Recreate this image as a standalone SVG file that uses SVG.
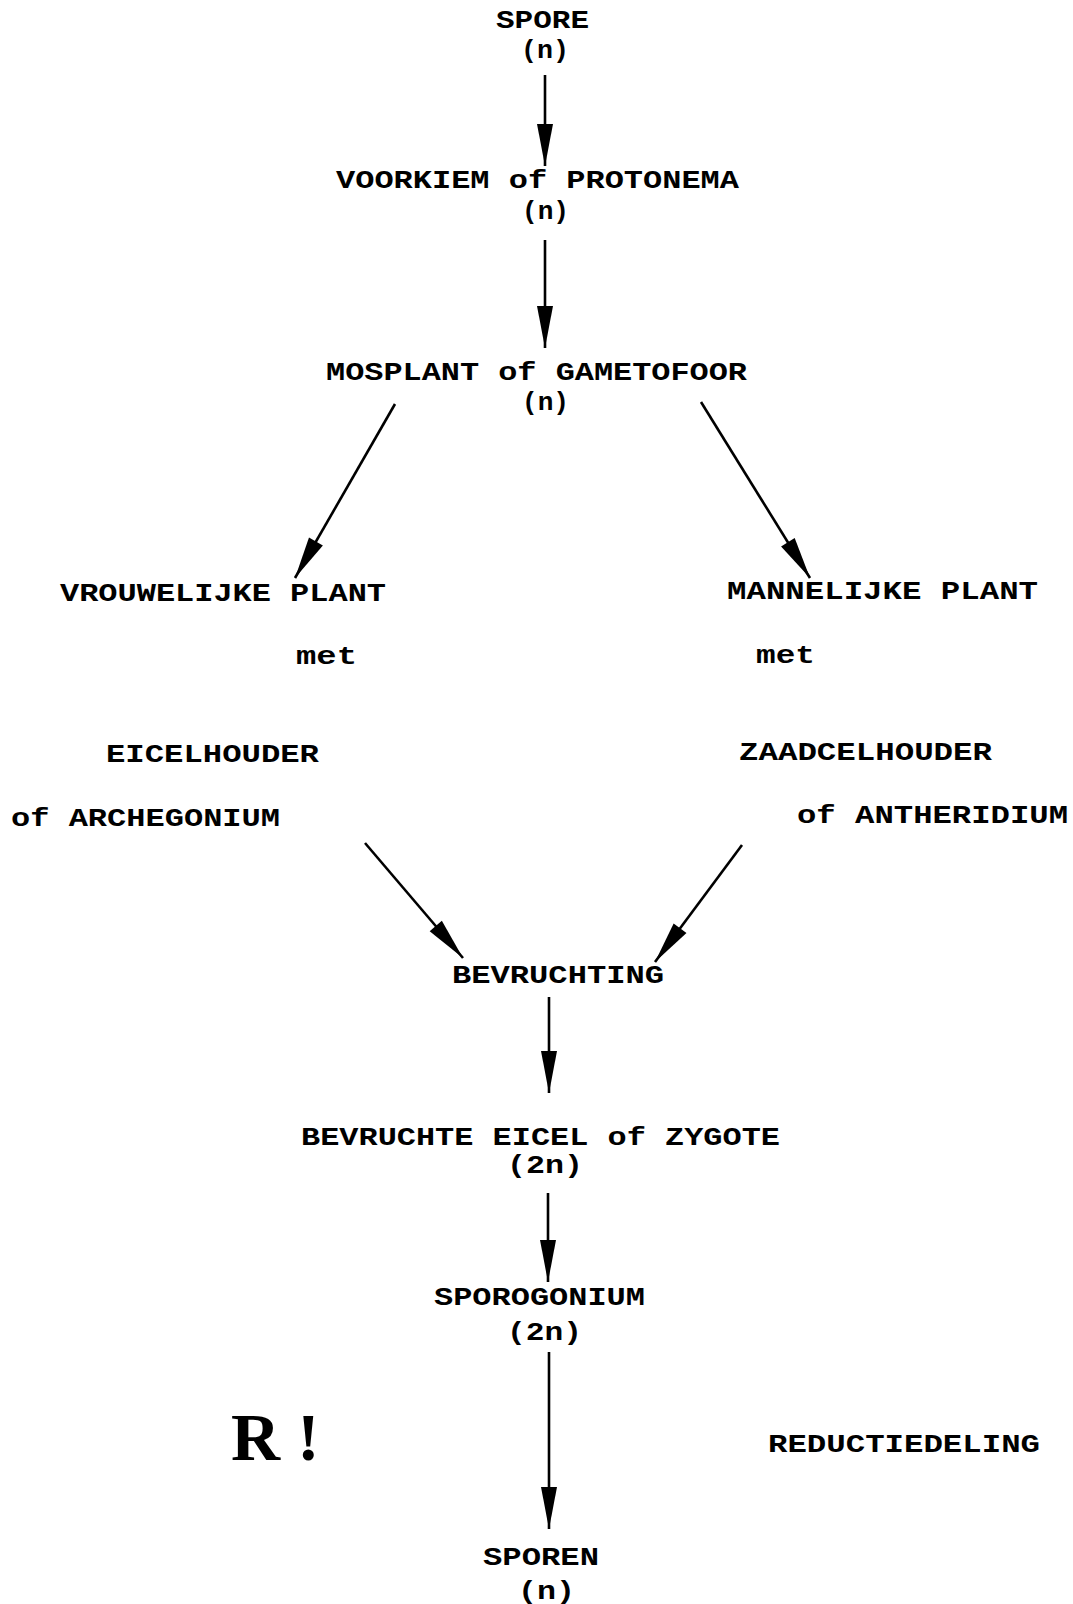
<svg xmlns="http://www.w3.org/2000/svg" width="1073" height="1604" viewBox="0 0 1073 1604">
<style>
.t{font-family:"Liberation Mono","Courier New",monospace;font-weight:bold;font-size:26px;fill:#000}
.big{font-family:"Liberation Serif","Times New Roman",serif;font-weight:bold;font-size:68px;fill:#000}
.c{stroke:#000;stroke-width:2.6;fill:none;marker-end:url(#ah)}
</style>
<defs>
<marker id="ah" markerUnits="userSpaceOnUse" markerWidth="44" markerHeight="18" refX="42" refY="8" orient="auto" overflow="visible">
<path d="M0,0 L42,8 L0,16 z" fill="#000"/>
</marker>
</defs>
<rect width="1073" height="1604" fill="#fff"/>
<g id="connectors">
<line class="c" x1="545" y1="75" x2="545" y2="166"/>
<line class="c" x1="545" y1="240" x2="545" y2="348"/>
<line class="c" x1="395" y1="404" x2="295" y2="578"/>
<line class="c" x1="701" y1="402" x2="810" y2="578"/>
<line class="c" x1="365" y1="843" x2="463" y2="958"/>
<line class="c" x1="742" y1="845" x2="655" y2="962"/>
<line class="c" x1="549" y1="997" x2="549" y2="1093"/>
<line class="c" x1="548" y1="1193" x2="548" y2="1282"/>
<line class="c" x1="549" y1="1352" x2="549" y2="1529"/>
</g>
<g id="spore"><text class="t" x="496" y="28" textLength="93" lengthAdjust="spacingAndGlyphs">SPORE</text><text class="t" x="521" y="58" textLength="48" lengthAdjust="spacingAndGlyphs">(n)</text></g>
<g id="voorkiem"><text class="t" x="336" y="188" textLength="403" lengthAdjust="spacingAndGlyphs">VOORKIEM of PROTONEMA</text><text class="t" x="522" y="219" textLength="47" lengthAdjust="spacingAndGlyphs">(n)</text></g>
<g id="mosplant"><text class="t" x="326" y="380" textLength="421" lengthAdjust="spacingAndGlyphs">MOSPLANT of GAMETOFOOR</text><text class="t" x="522" y="410" textLength="47" lengthAdjust="spacingAndGlyphs">(n)</text></g>
<g id="vrouwelijk">
<text class="t" x="60" y="601" textLength="326" lengthAdjust="spacingAndGlyphs">VROUWELIJKE PLANT</text>
<text class="t" x="296" y="664" textLength="61" lengthAdjust="spacingAndGlyphs">met</text>
<text class="t" x="106" y="762" textLength="213" lengthAdjust="spacingAndGlyphs">EICELHOUDER</text>
<text class="t" x="11" y="826" textLength="269" lengthAdjust="spacingAndGlyphs">of ARCHEGONIUM</text>
</g>
<g id="mannelijk">
<text class="t" x="727" y="599" textLength="311" lengthAdjust="spacingAndGlyphs">MANNELIJKE PLANT</text>
<text class="t" x="756" y="663" textLength="59" lengthAdjust="spacingAndGlyphs">met</text>
<text class="t" x="739" y="760" textLength="253" lengthAdjust="spacingAndGlyphs">ZAADCELHOUDER</text>
<text class="t" x="797" y="823" textLength="271" lengthAdjust="spacingAndGlyphs">of ANTHERIDIUM</text>
</g>
<g id="bevruchting"><text class="t" x="452" y="983" textLength="212" lengthAdjust="spacingAndGlyphs">BEVRUCHTING</text></g>
<g id="zygote"><text class="t" x="301" y="1145" textLength="479" lengthAdjust="spacingAndGlyphs">BEVRUCHTE EICEL of ZYGOTE</text><text class="t" x="507" y="1173" textLength="76" lengthAdjust="spacingAndGlyphs">(2n)</text></g>
<g id="sporogonium"><text class="t" x="434" y="1305" textLength="211" lengthAdjust="spacingAndGlyphs">SPOROGONIUM</text><text class="t" x="507" y="1340" textLength="75" lengthAdjust="spacingAndGlyphs">(2n)</text></g>
<g id="reductie">
<text class="big" x="231" y="1460">R !</text>
<text class="t" x="768" y="1452" textLength="272" lengthAdjust="spacingAndGlyphs">REDUCTIEDELING</text>
</g>
<g id="sporen"><text class="t" x="483" y="1565" textLength="116" lengthAdjust="spacingAndGlyphs">SPOREN</text><text class="t" x="518" y="1599" textLength="57" lengthAdjust="spacingAndGlyphs">(n)</text></g>
</svg>
